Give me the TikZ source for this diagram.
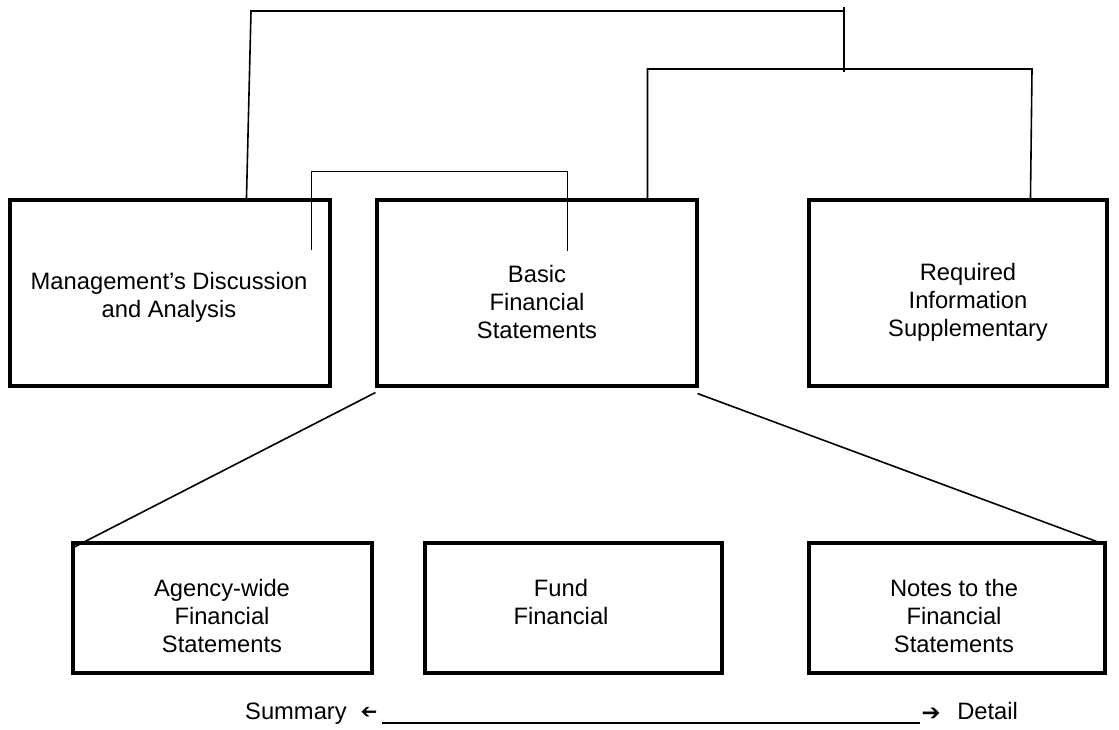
\documentclass[tikz,border=0pt]{standalone}
\usepackage{fontspec}
\setmainfont{Liberation Sans}
\newfontfamily\symfont{DejaVu Sans}
\usetikzlibrary{calc}
\begin{document}
\begin{tikzpicture}[x=0.75pt,y=-0.75pt,
  box/.style={draw, line width=2.3pt, inner sep=0pt},
  topbox/.style={box, minimum height=139.5pt},
  botbox/.style={box, minimum height=97.5pt},
  lbl/.style={align=center, inner sep=0pt, font=\fontsize{17.8}{21}\selectfont},
  conn/.style={line width=1.2pt, line join=miter}]
\useasboundingbox (0,0) rectangle (1119,730);
% boxes
\node[topbox, minimum width=240pt] (mda) at (170,293) {};
\node[topbox, minimum width=240pt] (bfs) at (537,293) {};
\node[topbox, minimum width=223.5pt] (ris) at (958,293) {};
\node[botbox, minimum width=224.25pt] (agw) at (222.5,608) {};
\node[botbox, minimum width=222.75pt] (fund) at (573.5,608) {};
\node[botbox, minimum width=222pt] (notes) at (957,608) {};
% texts
\node[lbl] (mdaT) at (169,297.5) {Management’s Discussion\\and Analysis};
\node[lbl] (bfsT) at (537,302) {Basic\\Financial\\Statements};
\node[lbl] (risT) at (968,302) {Required\\Information\\Supplementary};
\node[lbl] (agwT) at (222,616) {Agency-wide\\Financial\\Statements};
\node[lbl] (fundT) at (561,602) {Fund\\Financial};
\node[lbl] (notesT) at (954,616) {Notes to the\\Financial\\Statements};
% top connectors
\coordinate (c1) at (251,11);
\coordinate (c2) at (844,11);
\coordinate (j1) at (844,7);
\coordinate (j2) at (844,72);
\coordinate (h) at (1032,69);
\draw[conn] ($(mda.north west)+(238,0)$) -- (c1) -- (c2);
\draw[line width=1.6pt] (j1) -- (j2);
\draw[conn] ($(bfs.north west)+(272,0)$) |- (h) -- ($(ris.north west)+(223,0)$);
% middle bracket
\draw[conn] ($(mda.north west)+(303,52)$) |- ($(bfs.north west)+(192,-27)$) -- ($(bfs.north west)+(192,53)$);
% diagonals
\draw[conn] ($(bfs.south west)+(0,5)$) -- ($(agw.north west)+(0,7)$);
\draw[conn] ($(bfs.south east)+(-1,6)$) -- ($(notes.north east)+(-10,0)$);
% bottom scale
\node[lbl, anchor=base east] (sum) at (347,719) {Summary};
\node[inner sep=0pt, xscale=-1, transform shape, font=\symfont\fontsize{15}{17}\selectfont] (la) at (369,713) {➔};
\coordinate (ls) at (382,723);
\coordinate (le) at (920,723);
\draw[line width=1.5pt] (ls) -- (le);
\node[inner sep=0pt, font=\symfont\fontsize{17}{20}\selectfont] (ra) at (931,714) {➔};
\node[lbl, anchor=base west] (det) at (957,719) {Detail};
\end{tikzpicture}
\end{document}
